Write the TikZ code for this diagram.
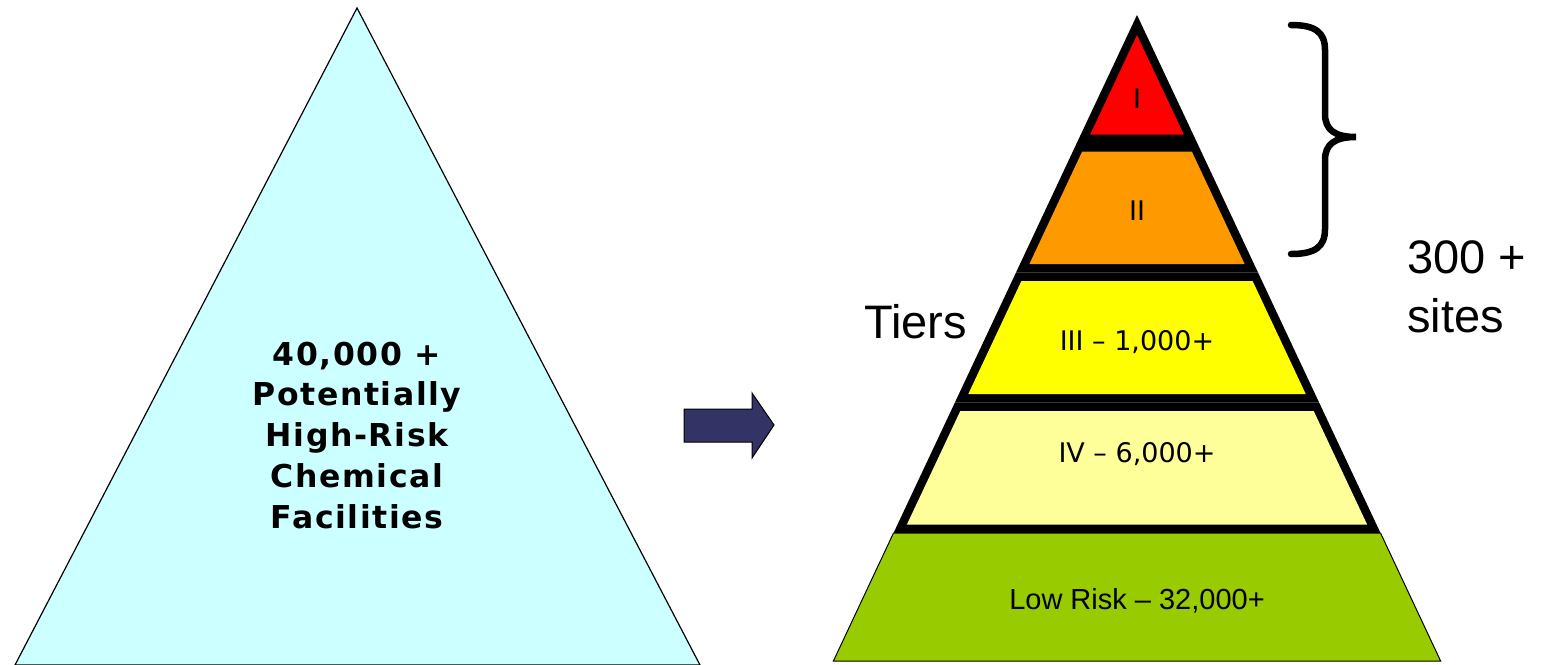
\documentclass[tikz,border=0pt]{standalone}
\usepackage{fontspec}
\setmainfont{Liberation Sans}
\newfontfamily\dvs{DejaVu Sans}
\newfontfamily\dvsb[LetterSpace=5]{DejaVu Sans Bold}
\definecolor{skyfill}{HTML}{CCFFFF}
\definecolor{tierred}{HTML}{FF0000}
\definecolor{tierorange}{HTML}{FF9900}
\definecolor{tieryellow}{HTML}{FFFF00}
\definecolor{tierpale}{HTML}{FFFF99}
\definecolor{tiergreen}{HTML}{99CC00}
\definecolor{arrowblue}{HTML}{333366}
\tikzset{
  tierborder/.style={fill=black},
  tierlabel/.style={anchor=base, inner sep=0pt, font=\dvs\fontsize{27}{32}\selectfont},
  biglabel/.style={inner sep=0pt, font=\fontsize{47}{59}\selectfont},
}
\begin{document}
\begin{tikzpicture}[x=1pt,y=-1pt]
\useasboundingbox (0,0) rectangle (1541,664);
\fill[white] (0,0) rectangle (1541,664);

% left triangle
\draw[fill=skyfill, line width=1.2pt] (357,8) -- (700,665) -- (15,665) -- cycle;
\node[anchor=base, inner sep=0pt, align=center,
      font=\dvsb\fontsize{31.5}{40.75}\selectfont] (left) at (357,528)
  {40,000 +\\Potentially\\High-Risk\\Chemical\\Facilities};

% arrow
\draw[fill=arrowblue, line width=1pt, line join=miter]
  (684,409) -- (752,409) -- (752,393) -- (774,425) -- (752,458) -- (752,442) -- (684,442) -- cycle;

% tier I
\fill[tierborder] (1137,15) -- (1197.2,143) -- (1076.8,143) -- cycle;
\fill[tierred] (1137,35) -- (1183.8,134.5) -- (1090.2,134.5) -- cycle;
% tier II
\fill[tierborder] (1076.8,143) -- (1197.2,143) -- (1258,272.5) -- (1016,272.5) -- cycle;
\fill[tierorange] (1082.2,151.5) -- (1191.8,151.5) -- (1244.6,264) -- (1029.4,264) -- cycle;
% tier III
\fill[tierborder] (1016,272.5) -- (1258,272.5) -- (1319.1,402.5) -- (954.9,402.5) -- cycle;
\fill[tieryellow] (1021.4,281) -- (1252.6,281) -- (1305.7,394) -- (968.3,394) -- cycle;
% tier IV
\fill[tierborder] (954.9,402.5) -- (1319.1,402.5) -- (1380.5,533) -- (893.5,533) -- cycle;
\fill[tierpale] (960.3,411) -- (1313.7,411) -- (1367.1,524.5) -- (906.9,524.5) -- cycle;
% low risk
\draw[fill=tiergreen, line width=1pt] (893.5,533) -- (1380.5,533) -- (1440.6,661) -- (833.4,661) -- cycle;

\node[tierlabel] (t1) at (1137,108) {I};
\node[tierlabel] (t2) at (1137,220) {II};
\node[tierlabel] (t3) at (1137,350) {III – 1,000+};
\node[tierlabel] (t4) at (1137,462) {IV – 6,000+};
\node[anchor=base, inner sep=0pt, font=\fontsize{29}{34}\selectfont] (t5) at (1137,609) {Low Risk – 32,000+};

\node[biglabel, anchor=base west] (tiers) at (864,338) {Tiers};
\node[biglabel, anchor=base west, align=left] (sites) at (1407,332) {300 +\\sites};

% brace
\draw[line width=6.5pt, line cap=round]
  (1291,25) .. controls (1315,25) and (1325,32) .. (1325,50) -- (1325,114)
  .. controls (1325,130) and (1335,137) .. (1356,137)
  .. controls (1335,137) and (1325,144) .. (1325,160) -- (1325,229)
  .. controls (1325,247) and (1315,254) .. (1291,254);
\end{tikzpicture}
\end{document}
